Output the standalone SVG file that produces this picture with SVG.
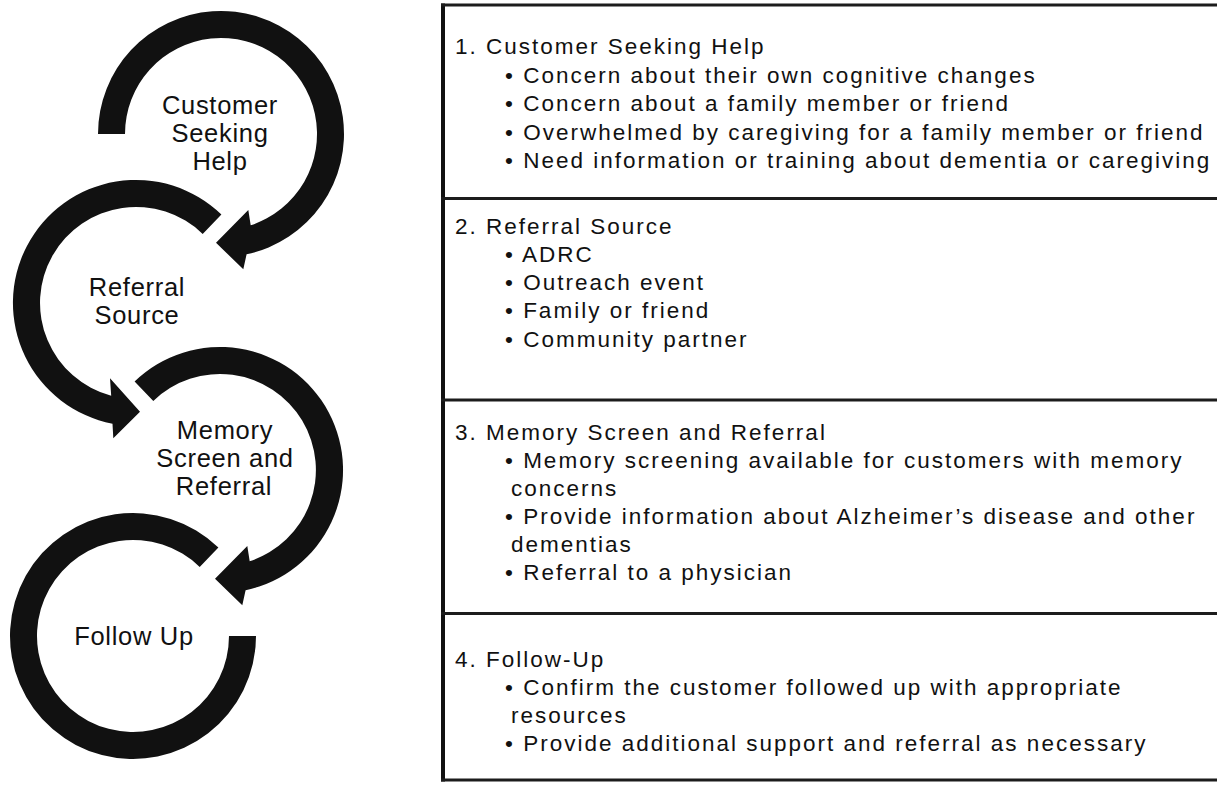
<svg xmlns="http://www.w3.org/2000/svg" width="1217" height="785" viewBox="0 0 1217 785">
<style>
.ring{fill:#111;stroke:none}
.lbl{font-family:"Liberation Sans",Arial,Helvetica,sans-serif;font-size:25.5px;letter-spacing:0.7px;fill:#111;text-anchor:middle}
.tx{font-family:"Liberation Sans",Arial,Helvetica,sans-serif;font-size:22.5px;letter-spacing:2px;fill:#111}
.rule{stroke:#1c1c1c;stroke-width:3;fill:none}
.border{stroke:#111;stroke-width:4;fill:none}
</style>
<rect width="1217" height="785" fill="#fff"/>

<g id="step1">
<path class="ring" d="M98,134 A123,123 0 1 1 246.6,254.3 L243.3,269.3 L216,242.7 L248.3,210 L250.7,225.3 A96,96 0 1 0 125,134 Z"/>
<text class="lbl" x="220" y="114">Customer</text>
<text class="lbl" x="220" y="142">Seeking</text>
<text class="lbl" x="220" y="170">Help</text>
</g>

<g id="step2">
<path class="ring" d="M221.4,214.5 A123,123 0 1 0 112.5,423.7 L113.3,438.3 L140,411.7 L110,378.3 L111.2,395.7 A96,96 0 1 1 202.7,233.9 Z"/>
<text class="lbl" x="137" y="296">Referral</text>
<text class="lbl" x="137" y="324">Source</text>
</g>

<g id="step3">
<path class="ring" d="M134.6,381.5 A123,123 0 1 1 245.6,590.3 L242.3,605.3 L215,578.7 L247.3,546 L249.7,561.3 A96,96 0 1 0 153.3,400.9 Z"/>
<text class="lbl" x="225" y="439">Memory</text>
<text class="lbl" x="225" y="467">Screen and</text>
<text class="lbl" x="224" y="495">Referral</text>
</g>

<g id="step4">
<path class="ring" d="M218.4,547.5 A123,123 0 1 0 256,636 L229,636 A96,96 0 1 1 199.7,566.9 Z"/>
<text class="lbl" x="134" y="645">Follow Up</text>
</g>

<g id="table">
<line class="border" x1="443" y1="3.5" x2="443" y2="781.5"/>
<line class="rule" x1="441" y1="5" x2="1217" y2="5"/>
<line class="rule" x1="441" y1="198.5" x2="1217" y2="198.5"/>
<line class="rule" x1="441" y1="400" x2="1217" y2="400"/>
<line class="rule" x1="441" y1="613.5" x2="1217" y2="613.5"/>
<line class="rule" x1="441" y1="780" x2="1217" y2="780"/>
</g>

<g id="section1">
<text class="tx" x="455" y="54">1. Customer Seeking Help</text>
<text class="tx" x="505" y="83">• Concern about their own cognitive changes</text>
<text class="tx" x="505" y="111.3">• Concern about a family member or friend</text>
<text class="tx" x="505" y="139.7">• Overwhelmed by caregiving for a family member or friend</text>
<text class="tx" x="505" y="168">• Need information or training about dementia or caregiving</text>
</g>

<g id="section2">
<text class="tx" x="455" y="233.5">2. Referral Source</text>
<text class="tx" x="505" y="261.8">• ADRC</text>
<text class="tx" x="505" y="290">• Outreach event</text>
<text class="tx" x="505" y="318.3">• Family or friend</text>
<text class="tx" x="505" y="346.6">• Community partner</text>
</g>

<g id="section3">
<text class="tx" x="455" y="440">3. Memory Screen and Referral</text>
<text class="tx" x="505" y="468">• Memory screening available for customers with memory</text>
<text class="tx" x="511" y="496">concerns</text>
<text class="tx" x="505" y="524">• Provide information about Alzheimer’s disease and other</text>
<text class="tx" x="511" y="552">dementias</text>
<text class="tx" x="505" y="580">• Referral to a physician</text>
</g>

<g id="section4">
<text class="tx" x="455" y="667">4. Follow-Up</text>
<text class="tx" x="505" y="695">• Confirm the customer followed up with appropriate</text>
<text class="tx" x="511" y="723">resources</text>
<text class="tx" x="505" y="751">• Provide additional support and referral as necessary</text>
</g>
</svg>
